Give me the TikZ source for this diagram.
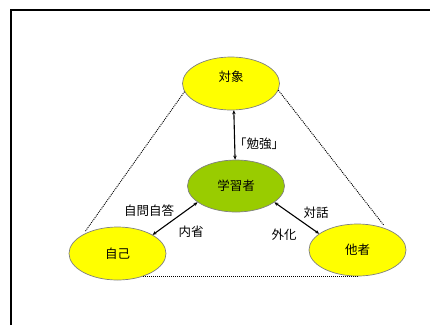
\documentclass[tikz,border=0pt]{standalone}
\usepackage{fontspec}
\newfontfamily\jp{Noto Sans CJK JP}
\usetikzlibrary{shapes.geometric,arrows.meta}
\definecolor{yel}{HTML}{FFFF00}
\definecolor{grn}{HTML}{99CC00}
\begin{document}
\begin{tikzpicture}[x=1pt,y=-1pt,
  every node/.style={font=\jp\fontsize{12.5}{14}\selectfont},
  ell/.style={ellipse,draw=black!50,line width=0.7pt,minimum width=97pt,minimum height=53pt,inner sep=0pt},
  dbl/.style={{Stealth[length=4pt,width=3.5pt]}-{Stealth[length=4pt,width=3.5pt]},line width=1.1pt},
  dots/.style={dash pattern=on 1pt off 1pt,line width=0.9pt},
  lbl/.style={inner sep=0pt}]
\useasboundingbox (0,0) rectangle (430,325);
\draw[line width=1.3pt] (11,325) -- (11,10) -- (430,10);
\node[ell,fill=yel] (o) at (231,83.5) {};
\node[lbl] (ot) at (231,77) {対象};
\node[ell,fill=grn,minimum height=52pt] (l) at (236,186) {学習者};
\node[ell,fill=yel] (s) at (117.5,253.5) {自己};
\node[ell,fill=yel,minimum height=52pt] (j) at (357.5,250) {他者};
% arrows
\draw[dbl] (o.276) -- (l.92);
\draw[dbl] (s.28) -- (l.203);
\draw[dbl] (l.-23) -- (j.157);
% dotted
\draw[dots,shorten >=4pt] (o.190) -- (s.151);
\draw[dots,shorten >=4pt] (o.-8) -- (j.36);
\draw[dots] (j.south) -- (j.south -| s.-43);
% labels
\node[lbl] (t1) at (259,144) {「勉強」};
\node[lbl] (t2) at (149,211) {自問自答};
\node[lbl] (t3) at (191,232) {内省};
\node[lbl] (t4) at (284,235) {外化};
\node[lbl] (t5) at (316,213) {対話};
\end{tikzpicture}
\end{document}
